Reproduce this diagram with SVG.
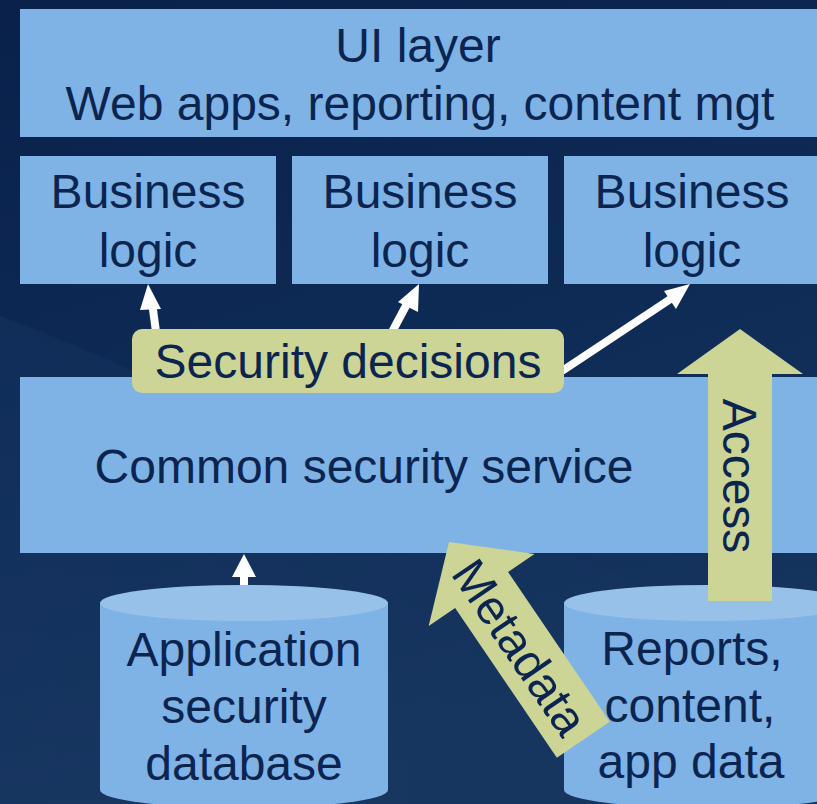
<svg xmlns="http://www.w3.org/2000/svg" width="817" height="804" viewBox="0 0 817 804">
  <defs>
    <linearGradient id="bg" x1="0" y1="0" x2="0.3" y2="1">
      <stop offset="0" stop-color="#09214b"/>
      <stop offset="0.5" stop-color="#0d2a55"/>
      <stop offset="1" stop-color="#16355e"/>
    </linearGradient>
    <linearGradient id="swoosh" x1="0" y1="0" x2="1" y2="0">
      <stop offset="0" stop-color="#1b3b68" stop-opacity="0.3"/>
      <stop offset="1" stop-color="#1b3b68" stop-opacity="0"/>
    </linearGradient>
    <style>
      .box { fill: #7fb2e5; }
      .cap { fill: #98c1ea; }
      .note { fill: #ccd496; }
      .lbl { font-family: "Liberation Sans", Arial, sans-serif; font-size: 48px; fill: #0b2550; text-anchor: middle; }
      .wire { stroke: #ffffff; stroke-width: 8; fill: none; }
      .head { fill: #ffffff; }
    </style>
  </defs>

  <!-- backdrop -->
  <rect width="817" height="804" fill="url(#bg)"/>
  <path d="M0,316 C200,390 420,520 817,640 L817,804 L0,804 Z" fill="url(#swoosh)"/>

  <!-- UI layer -->
  <g id="ui-layer">
    <rect class="box" x="20" y="9" width="797" height="128"/>
    <text class="lbl" x="418" y="62">UI layer</text>
    <text class="lbl" x="420" y="120">Web apps, reporting, content mgt</text>
  </g>

  <!-- business logic tiles -->
  <g id="business-1">
    <rect class="box" x="20" y="156" width="256" height="128"/>
    <text class="lbl" x="148" y="208">Business</text>
    <text class="lbl" x="148" y="267">logic</text>
  </g>
  <g id="business-2">
    <rect class="box" x="292" y="156" width="256" height="128"/>
    <text class="lbl" x="420" y="208">Business</text>
    <text class="lbl" x="420" y="267">logic</text>
  </g>
  <g id="business-3">
    <rect class="box" x="564" y="156" width="253" height="128"/>
    <text class="lbl" x="692" y="208">Business</text>
    <text class="lbl" x="692" y="267">logic</text>
  </g>

  <!-- shared security service -->
  <g id="security-service">
    <rect class="box" x="20" y="377" width="797" height="176"/>
    <text class="lbl" x="364" y="483">Common security service</text>
  </g>

  <!-- white decision / lookup arrows -->
  <g id="connectors">
    <line class="wire" x1="156" y1="332" x2="152" y2="302"/>
    <polygon class="head" points="148,284 161,309 140,310"/>
    <line class="wire" x1="392" y1="332" x2="408" y2="302"/>
    <polygon class="head" points="419,284 418,312 398,302"/>
    <line class="wire" x1="562" y1="371" x2="675" y2="296"/>
    <polygon class="head" points="690,284 676,309 664,291"/>
    <line class="wire" x1="244" y1="601" x2="244" y2="574"/>
    <polygon class="head" points="244,554 256,577 232,577"/>
  </g>

  <!-- decisions badge -->
  <g id="security-decisions">
    <rect class="note" x="132" y="329" width="432" height="64" rx="10"/>
    <text class="lbl" x="348" y="378">Security decisions</text>
  </g>

  <!-- databases -->
  <g id="app-security-db">
    <path class="box" d="M100,603 L100,790 A144,18 0 0 0 388,790 L388,603 Z"/>
    <ellipse class="cap" cx="244" cy="603" rx="144" ry="18"/>
    <text class="lbl" x="244" y="666">Application</text>
    <text class="lbl" x="244" y="723">security</text>
    <text class="lbl" x="244" y="780">database</text>
  </g>
  <g id="reports-db">
    <path class="box" d="M564,603 L564,790 A144,18 0 0 0 852,790 L852,603 Z"/>
    <ellipse class="cap" cx="708" cy="603" rx="144" ry="18"/>
    <text class="lbl" x="692" y="665">Reports,</text>
    <text class="lbl" x="690" y="722">content,</text>
    <text class="lbl" x="691" y="778">app data</text>
  </g>

  <!-- block arrows -->
  <g id="access-arrow">
    <polygon class="note" points="740,329 803,374 772,374 772,601 708,601 708,374 677,374"/>
    <text class="lbl" transform="translate(723,476) rotate(90)">Access</text>
  </g>
  <g id="metadata-arrow" transform="translate(449,542) rotate(-34.2)">
    <polygon class="note" points="0,0 64,58 32,58 32,239 -32,239 -32,58 -64,58"/>
    <text class="lbl" transform="translate(-17,127) rotate(90)">Metadata</text>
  </g>
</svg>
